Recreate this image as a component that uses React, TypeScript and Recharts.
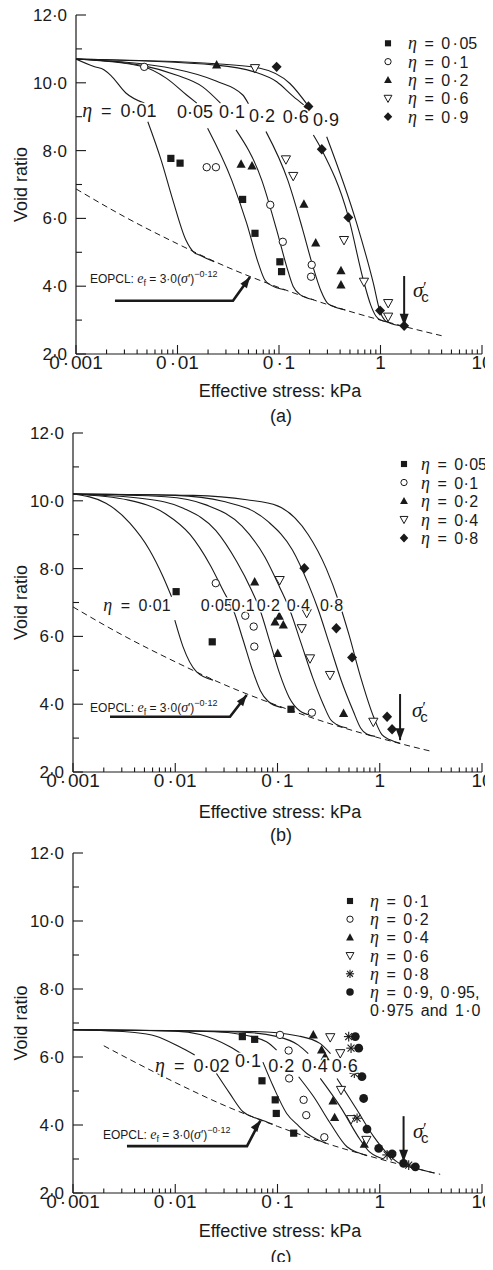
import React from 'react'
import { ComposedChart, Line, Scatter, XAxis, YAxis, ReferenceDot } from 'recharts'

const SANS = '"Liberation Sans", Arial, sans-serif'
const SERIF = '"Liberation Serif", "Times New Roman", serif'
const INK = '#1a1a1a'

type Pair = [number, number | null]
type Kind = 'sq' | 'ci' | 'tr' | 'td' | 'di' | 'as' | 'fc'

// axes (shared by the three panels)
const xTicks = [
    0.001, 0.002, 0.003, 0.004, 0.005, 0.006, 0.007, 0.008, 0.009,
    0.01, 0.02, 0.03, 0.04, 0.05, 0.06, 0.07, 0.08, 0.09,
    0.1, 0.2, 0.3, 0.4, 0.5, 0.6, 0.7, 0.8, 0.9,
    1, 2, 3, 4, 5, 6, 7, 8, 9, 10,
]
const xTickLabels: Record<string, string> = { '0.001': '0·001', '0.01': '0·01', '0.1': '0·1', '1': '1', '10': '10' }
const yTicks = [2, 3, 4, 5, 6, 7, 8, 9, 10, 11, 12]
const yTickLabels: Record<string, string> = { '2': '2·0', '4': '4·0', '6': '6·0', '8': '8·0', '10': '10·0', '12': '12·0' }

// ---------- panel (a) ----------
const curveA001: Pair[] = [[0.001, 10.7], [0.0015, 10.48], [0.0019, 10.38], [0.0022, 10.22], [0.0031, 9.7], [0.0047, 9.4], [0.0049, null], [0.0051, 8.85], [0.0069, 7.72], [0.009, 6.54], [0.0121, 5.36], [0.0145, 5.0], [0.0164, 4.92], [0.023, 4.72]]
const curveA005: Pair[] = [[0.001, 10.7], [0.0045, 10.48], [0.0078, 10.13], [0.0123, 9.64], [0.0155, 9.4], [0.0175, null], [0.0198, 8.66], [0.0342, 7.13], [0.048, 5.86], [0.0625, 4.68], [0.072, 4.2], [0.08, 4.06], [0.115, 3.89]]
const curveA01: Pair[] = [[0.001, 10.7], [0.0047, 10.5], [0.0097, 10.23], [0.0177, 9.88], [0.0265, 9.4], [0.032, null], [0.0377, 8.61], [0.0676, 7.13], [0.0948, 5.66], [0.119, 4.58], [0.138, 3.99], [0.16, 3.76], [0.22, 3.6]]
const curveA02: Pair[] = [[0.001, 10.7], [0.0097, 10.4], [0.024, 10.05], [0.044, 9.64], [0.05, 9.38], [0.062, null], [0.0745, 8.56], [0.122, 7.13], [0.17, 5.7], [0.215, 4.6], [0.26, 3.85], [0.3, 3.5], [0.333, 3.42], [0.45, 3.3]]
const curveA06: Pair[] = [[0.001, 10.7], [0.024, 10.52], [0.056, 10.33], [0.095, 10.03], [0.138, 9.6], [0.175, 9.35], [0.2, null], [0.218, 8.46], [0.264, 8.02], [0.482, 6.05], [0.678, 4.18], [0.8, 3.45], [0.9, 3.12], [1.0, 3.0], [1.2, 2.94]]
const curveA09: Pair[] = [[0.001, 10.7], [0.024, 10.56], [0.065, 10.43], [0.128, 9.98], [0.195, 9.31], [0.25, null], [0.295, 8.41], [0.582, 5.86], [0.85, 4.09], [0.99, 3.25], [1.1, 3.0], [1.2, 2.93], [1.7, 2.82]]
const eopclA: Pair[] = [[0.001, 6.87], [0.003, 6.05], [0.01, 5.25], [0.03, 4.58], [0.1, 3.96], [0.3, 3.46], [1, 3.0], [2, 2.76], [4, 2.54]]

const testsA005: Pair[] = [[0.0086, 7.77], [0.0106, 7.63], [0.0438, 6.56], [0.058, 5.56], [0.102, 4.72], [0.106, 4.43]]
const testsA01: Pair[] = [[0.0047, 10.47], [0.0194, 7.51], [0.0239, 7.51], [0.082, 6.4], [0.109, 5.31], [0.21, 4.63], [0.207, 4.28]]
const testsA02: Pair[] = [[0.0243, 10.53], [0.0423, 7.6], [0.0542, 7.55], [0.176, 6.42], [0.23, 5.28], [0.408, 4.46], [0.408, 4.04]]
const testsA06: Pair[] = [[0.058, 10.43], [0.117, 7.74], [0.138, 7.25], [0.437, 5.36], [0.687, 4.13], [1.19, 3.5], [1.19, 3.1]]
const testsA09: Pair[] = [[0.0948, 10.47], [0.195, 9.3], [0.264, 8.04], [0.482, 6.03], [0.99, 3.28], [1.71, 2.83]]

const legendA = ['0·05', '0·1', '0·2', '0·6', '0·9']

// ---------- panel (b) ----------
const curveB001: Pair[] = [[0.001, 10.2], [0.0021, 9.93], [0.0036, 9.34], [0.0056, 8.55], [0.0076, 7.76], [0.0092, 7.17], [0.0096, null], [0.0099, 6.48], [0.0119, 5.7], [0.0161, 4.96], [0.0234, 4.71]]
const curveB005: Pair[] = [[0.001, 10.2], [0.0035, 10.02], [0.008, 9.62], [0.014, 9.0], [0.022, 8.1], [0.03, 7.3], [0.037, 6.78], [0.046, 5.9], [0.057, 5.0], [0.068, 4.4], [0.0813, 4.08], [0.11, 3.9]]
const curveB01: Pair[] = [[0.001, 10.2], [0.005, 10.06], [0.012, 9.78], [0.025, 9.12], [0.04, 8.2], [0.055, 7.4], [0.0675, 6.78], [0.085, 5.8], [0.105, 4.9], [0.13, 4.2], [0.166, 3.8], [0.21, 3.68]]
const curveB02: Pair[] = [[0.001, 10.2], [0.008, 10.12], [0.02, 9.88], [0.045, 9.25], [0.075, 8.35], [0.105, 7.45], [0.132, 6.78], [0.17, 5.8], [0.22, 4.8], [0.28, 4.0], [0.33, 3.55], [0.379, 3.4], [0.48, 3.3]]
const curveB04: Pair[] = [[0.001, 10.2], [0.01, 10.16], [0.03, 9.98], [0.08, 9.4], [0.14, 8.55], [0.2, 7.55], [0.251, 6.78], [0.32, 5.8], [0.42, 4.7], [0.55, 3.8], [0.65, 3.3], [0.745, 3.12], [0.9, 3.05]]
const curveB08: Pair[] = [[0.001, 10.2], [0.015, 10.16], [0.05, 10.03], [0.1, 9.85], [0.2, 9.0], [0.3, 8.0], [0.4, 7.0], [0.5, 6.05], [0.65, 4.8], [0.87, 3.63], [1.05, 3.1], [1.26, 2.95], [1.58, 2.85]]
const eopclB: Pair[] = [[0.001, 6.87], [0.003, 6.05], [0.01, 5.25], [0.03, 4.58], [0.1, 3.96], [0.3, 3.46], [1, 3.0], [2, 2.76], [3.1, 2.62]]

const testsB005: Pair[] = [[0.0102, 7.32], [0.023, 5.84], [0.1355, 3.85]]
const testsB01: Pair[] = [[0.0249, 7.57], [0.0484, 6.61], [0.0585, 6.29], [0.0593, 5.7], [0.217, 3.75]]
const testsB02: Pair[] = [[0.0598, 7.61], [0.104, 6.6], [0.0946, 6.43], [0.114, 6.34], [0.1005, 5.5], [0.443, 3.73]]
const testsB04: Pair[] = [[0.105, 7.66], [0.193, 6.69], [0.1725, 6.24], [0.208, 5.35], [0.326, 4.86], [0.865, 3.48]]
const testsB08: Pair[] = [[0.183, 8.01], [0.376, 6.24], [0.536, 5.38], [1.18, 3.63], [1.32, 3.26]]

const legendB = ['0·05', '0·1', '0·2', '0·4', '0·8']

// ---------- panel (c) ----------
const curveC002: Pair[] = [[0.001, 6.8], [0.004, 6.72], [0.0065, 6.61], [0.011, 6.3], [0.0155, 6.06], [0.02, null], [0.0252, 5.52], [0.0341, 4.93], [0.046, 4.39], [0.058, 4.23], [0.067, 4.17], [0.09, 4.02]]
const curveC01: Pair[] = [[0.001, 6.8], [0.01, 6.76], [0.0175, 6.66], [0.0343, 6.3], [0.045, 6.08], [0.058, null], [0.072, 5.85], [0.091, 5.13], [0.123, 4.34], [0.16, 3.98], [0.2, 3.72], [0.25, 3.56], [0.3, 3.46]]
const curveC02: Pair[] = [[0.001, 6.8], [0.02, 6.75], [0.037, 6.7], [0.078, 6.45], [0.098, 6.2], [0.12, null], [0.161, 5.42], [0.226, 4.83], [0.328, 4.05], [0.478, 3.36], [0.6, 3.2], [0.75, 3.1]]
const curveC04: Pair[] = [[0.001, 6.8], [0.04, 6.74], [0.1, 6.6], [0.16, 6.35], [0.2, 6.1], [0.23, null], [0.262, 5.37], [0.411, 4.54], [0.646, 3.56], [0.8, 3.2], [0.94, 3.07], [1.1, 3.0]]
const curveC06: Pair[] = [[0.001, 6.8], [0.06, 6.75], [0.16, 6.62], [0.26, 6.4], [0.33, 6.1], [0.355, null], [0.382, 5.37], [0.6, 4.44], [0.873, 3.66], [1.18, 3.17], [1.5, 2.9], [2.5, 2.69], [3.4, 2.59]]
const eopclC: Pair[] = [[0.002, 6.33], [0.003, 6.05], [0.01, 5.25], [0.03, 4.58], [0.1, 3.96], [0.3, 3.46], [1, 3.0], [2, 2.76], [3.9, 2.55]]

const testsC01: Pair[] = [[0.0453, 6.6], [0.0598, 6.52], [0.0705, 5.3], [0.095, 4.74], [0.0973, 4.34], [0.144, 3.76]]
const testsC02: Pair[] = [[0.1057, 6.65], [0.1285, 6.19], [0.13, 5.37], [0.18, 4.74], [0.191, 4.29], [0.287, 3.64]]
const testsC04: Pair[] = [[0.224, 6.65], [0.27, 6.21], [0.292, 6.01], [0.349, 4.71], [0.362, 4.22], [0.706, 3.44]]
const testsC06: Pair[] = [[0.328, 6.58], [0.411, 6.11], [0.418, 5.03], [0.524, 4.17], [0.74, 3.56], [1.3, 3.1]]
const testsC08: Pair[] = [[0.497, 6.6], [0.524, 6.26], [0.564, 5.52], [0.6, 4.2], [1.18, 3.12], [1.92, 2.82]]
const testsC09: Pair[] = [[0.577, 6.6], [0.623, 6.26], [0.67, 5.42], [0.696, 4.78], [0.75, 3.88], [0.977, 3.31], [1.32, 3.15], [1.71, 2.87], [2.23, 2.77]]

const legendC = ['0·1', '0·2', '0·4', '0·6', '0·8', '0·9, 0·95,']

const W = 493
const H = 430

const pts = (a: Pair[]) => a.map(([x, y]) => ({ x, y }))

// the figure sets its decimal point with a little room on either side
const spaced = (t: string, pad: number) =>
    t.split('·').flatMap((s, i) =>
        i === 0
            ? [s]
            : [
                  <tspan key={'d' + i} dx={pad}>·</tspan>,
                  <tspan key={'s' + i} dx={pad * 0.6}>{s}</tspan>,
              ],
    )

const Mark = ({ cx, cy, kind, s = 1 }: { cx: number; cy: number; kind: Kind; s?: number }) => {
    switch (kind) {
        case 'sq':
            return <rect x={cx - 3.6 * s} y={cy - 3.6 * s} width={7.2 * s} height={7.2 * s} fill={INK} />
        case 'ci':
            return <circle cx={cx} cy={cy} r={3.7 * s} fill="#fff" stroke={INK} strokeWidth={1} />
        case 'tr':
            return <polygon points={`${cx},${cy - 4.8 * s} ${cx + 4.6 * s},${cy + 3.6 * s} ${cx - 4.6 * s},${cy + 3.6 * s}`} fill={INK} />
        case 'td':
            return <polygon points={`${cx - 4.6 * s},${cy - 3.6 * s} ${cx + 4.6 * s},${cy - 3.6 * s} ${cx},${cy + 4.8 * s}`} fill="#fff" stroke={INK} strokeWidth={1} />
        case 'di':
            return <polygon points={`${cx},${cy - 5.2 * s} ${cx + 5 * s},${cy} ${cx},${cy + 5.2 * s} ${cx - 5 * s},${cy}`} fill={INK} />
        case 'as': {
            const r = 4.8 * s
            return (
                <g stroke={INK} strokeWidth={1.1}>
                    <line x1={cx - r} y1={cy} x2={cx + r} y2={cy} />
                    <line x1={cx} y1={cy - r} x2={cx} y2={cy + r} />
                    <line x1={cx - r * 0.72} y1={cy - r * 0.72} x2={cx + r * 0.72} y2={cy + r * 0.72} />
                    <line x1={cx - r * 0.72} y1={cy + r * 0.72} x2={cx + r * 0.72} y2={cy - r * 0.72} />
                </g>
            )
        }
        default:
            return <circle cx={cx} cy={cy} r={4.4 * s} fill={INK} />
    }
}

const XTick = (props: any) => {
    const { x, y, payload } = props
    const label = xTickLabels[String(payload.value)]
    return (
        <g>
            <line x1={x} x2={x} y1={y} y2={y - (label ? 9 : 4.5)} stroke={INK} strokeWidth={1.1} />
            {label && (
                <text x={x} y={y + 15} textAnchor="middle" fontSize={19} fontFamily={SANS} fill={INK}>
                    {spaced(label, 3)}
                </text>
            )}
        </g>
    )
}

const YTick = (props: any) => {
    const { x, y, payload } = props
    const label = yTickLabels[String(payload.value)]
    return (
        <g>
            <line x1={x} x2={x + (label ? 10 : 6)} y1={y} y2={y} stroke={INK} strokeWidth={1.1} />
            {label && (
                <text x={x - 9} y={y + 6} textAnchor="end" fontSize={17} fontFamily={SANS} fill={INK}>
                    {label}
                </text>
            )}
        </g>
    )
}

type Note = { x: number; y: number; t: string; eta?: boolean }

interface PanelProps {
    top: number
    margin: { top: number; right: number; bottom: number; left: number }
    yWidth: number
    curves: Pair[][]
    eopcl: Pair[]
    tests: { kind: Kind; data: Pair[] }[]
    notes: Note[]
    noteSize: number
    eq: [number, number]
    arrow: Pair[]
    arrowDeg: number
    sigma: Pair[]
    sigmaLabel: [number, number]
    legend: { kind?: Kind; text: string; eta: boolean }[]
    legendX: number
    legendTextX: number
    legendY: number
    legendStep: number
    legendPad: number
    titleY: number
    letterY: number
    letter: string
}

const Panel = (p: PanelProps) => {
    const plotMid = (p.margin.top + (H - p.margin.bottom - 30)) / 2
    const tip = p.arrow[p.arrow.length - 1]
    const sigTip = p.sigma[p.sigma.length - 1]
    return (
        <div style={{ position: 'absolute', left: 0, top: p.top, width: W, height: H }}>
            <ComposedChart width={W} height={H} margin={p.margin}>
                <XAxis
                    type="number"
                    dataKey="x"
                    scale="log"
                    domain={[0.001, 10]}
                    ticks={xTicks}
                    interval={0}
                    allowDataOverflow
                    height={30}
                    tickSize={0}
                    tickMargin={0}
                    tickLine={false}
                    axisLine={{ stroke: INK, strokeWidth: 1.2 }}
                    tick={XTick}
                />
                <YAxis
                    type="number"
                    dataKey="y"
                    domain={[2, 12]}
                    ticks={yTicks}
                    interval={0}
                    allowDataOverflow
                    width={p.yWidth}
                    tickSize={0}
                    tickMargin={0}
                    tickLine={false}
                    axisLine={{ stroke: INK, strokeWidth: 1.2 }}
                    tick={YTick}
                />
                <Line
                    data={pts(p.eopcl)}
                    dataKey="y"
                    type="monotone"
                    stroke={INK}
                    strokeWidth={1}
                    strokeDasharray="6 4"
                    dot={false}
                    isAnimationActive={false}
                />
                {p.curves.map((c, i) => (
                    <Line
                        key={i}
                        data={pts(c)}
                        dataKey="y"
                        type="monotone"
                        stroke={INK}
                        strokeWidth={1.1}
                        dot={false}
                        isAnimationActive={false}
                    />
                ))}
                <Line data={pts(p.arrow)} dataKey="y" type="linear" stroke={INK} strokeWidth={2.6} dot={false} isAnimationActive={false} />
                <Line data={pts(p.sigma)} dataKey="y" type="linear" stroke={INK} strokeWidth={2} dot={false} isAnimationActive={false} />
                {p.tests.map((s, i) => (
                    <Scatter
                        key={i}
                        data={pts(s.data)}
                        isAnimationActive={false}
                        shape={(q: any) => <Mark cx={q.cx} cy={q.cy} kind={s.kind} />}
                    />
                ))}
                <ReferenceDot
                    x={tip[0]}
                    y={tip[1] as number}
                    ifOverflow="visible"
                    shape={(q: any) => (
                        <polygon transform={`translate(${q.cx},${q.cy}) rotate(${p.arrowDeg})`} points="0,0 -11,-4 -11,4" fill={INK} />
                    )}
                />
                <ReferenceDot
                    x={sigTip[0]}
                    y={sigTip[1] as number}
                    ifOverflow="visible"
                    shape={(q: any) => (
                        <polygon transform={`translate(${q.cx},${q.cy}) rotate(90)`} points="0,0 -12,-4.5 -12,4.5" fill={INK} />
                    )}
                />
                <ReferenceDot
                    x={p.sigmaLabel[0]}
                    y={p.sigmaLabel[1]}
                    ifOverflow="visible"
                    shape={(q: any) => (
                        <text x={q.cx} y={q.cy} fill={INK} fontFamily={SANS}>
                            <tspan fontFamily={SERIF} fontStyle="italic" fontSize={21}>σ</tspan>
                            <tspan fontSize={15} dy={-5}>′</tspan>
                            <tspan fontSize={15} dx={-5} dy={10}>c</tspan>
                        </text>
                    )}
                />
                <ReferenceDot
                    x={p.eq[0]}
                    y={p.eq[1]}
                    ifOverflow="visible"
                    shape={(q: any) => (
                        <text x={q.cx} y={q.cy} fill={INK} fontFamily={SANS} fontSize={12}>
                            EOPCL:{' '}
                            <tspan fontFamily={SERIF} fontStyle="italic" fontSize={14}>e</tspan>
                            <tspan fontSize={9} dy={3}>f</tspan>
                            <tspan dy={-3}> = 3·0(</tspan>
                            <tspan fontFamily={SERIF} fontStyle="italic" fontSize={14}>σ</tspan>
                            <tspan>′)</tspan>
                            <tspan fontSize={9} dy={-6}>−0·12</tspan>
                        </text>
                    )}
                />
                {p.notes.map((n, i) => (
                    <ReferenceDot
                        key={'n' + i}
                        x={n.x}
                        y={n.y}
                        ifOverflow="visible"
                        shape={(q: any) => (
                            <text
                                x={q.cx}
                                y={q.cy}
                                fill={INK}
                                fontFamily={SANS}
                                fontSize={p.noteSize}
                                wordSpacing={4}
                                stroke="#fff"
                                strokeWidth={3}
                                paintOrder="stroke"
                            >
                                {n.eta && (
                                    <tspan fontFamily={SERIF} fontStyle="italic" fontSize={p.noteSize + 2}>
                                        η
                                    </tspan>
                                )}
                                {n.eta ? ' = ' + n.t : n.t}
                            </text>
                        )}
                    />
                ))}
            </ComposedChart>
            <svg width={W} height={H} style={{ position: 'absolute', left: 0, top: 0, pointerEvents: 'none' }}>
                {p.legend.map((it, i) => {
                    const cy = p.legendY + i * p.legendStep
                    return (
                        <g key={i}>
                            {it.kind && <Mark cx={p.legendX} cy={cy} kind={it.kind} s={0.85} />}
                            <text x={p.legendTextX} y={cy + 6} fontSize={16} wordSpacing={3} fontFamily={SANS} fill={INK}>
                                {it.eta && (
                                    <tspan fontFamily={SERIF} fontStyle="italic" fontSize={18}>
                                        η
                                    </tspan>
                                )}
                                {it.eta ? ' = ' : ''}
                                {spaced(it.text, p.legendPad)}
                            </text>
                        </g>
                    )
                })}
                <text x={280} y={p.titleY} textAnchor="middle" fontSize={18} fontFamily={SANS} fill={INK}>
                    Effective stress: kPa
                </text>
                <text transform={`translate(27,${plotMid}) rotate(-90)`} textAnchor="middle" fontSize={18} fontFamily={SANS} fill={INK}>
                    Void ratio
                </text>
                <text x={281} y={p.letterY} textAnchor="middle" fontSize={18} fontFamily={SANS} fill={INK}>
                    {p.letter}
                </text>
            </svg>
        </div>
    )
}

const kindsAB: Kind[] = ['sq', 'ci', 'tr', 'td', 'di']
const kindsC: Kind[] = ['sq', 'ci', 'tr', 'td', 'as', 'fc']

const App = () => {
    return (
        <div style={{ position: 'relative', margin: '-8px 0 0 -8px', width: W, height: 1262, fontFamily: SANS }}>
            <Panel
                top={0}
                margin={{ top: 15, right: 11, bottom: 46, left: 0 }}
                yWidth={76}
                curves={[curveA001, curveA005, curveA01, curveA02, curveA06, curveA09]}
                eopcl={eopclA}
                tests={[testsA005, testsA01, testsA02, testsA06, testsA09].map((d, i) => ({ kind: kindsAB[i], data: d }))}
                notes={[
                    { x: 0.00115, y: 9.0, t: '0·01', eta: true },
                    { x: 0.0099, y: 8.96, t: '0·05' },
                    { x: 0.0257, y: 8.96, t: '0·1' },
                    { x: 0.0506, y: 8.84, t: '0·2' },
                    { x: 0.109, y: 8.82, t: '0·6' },
                    { x: 0.216, y: 8.74, t: '0·9' },
                ]}
                noteSize={18}
                eq={[0.00137, 4.09]}
                arrow={[[0.00242, 3.57], [0.0352, 3.57], [0.0518, 4.27]]}
                arrowDeg={-54.7}
                sigma={[[1.71, 4.3], [1.71, 2.83]]}
                sigmaLabel={[2.09, 3.68]}
                legend={legendA.map((t, i) => ({ kind: kindsAB[i], text: t, eta: true }))}
                legendX={388}
                legendTextX={408}
                legendY={43.3}
                legendStep={18.35}
                legendPad={2.5}
                titleY={397}
                letterY={422}
                letter="(a)"
            />
            <Panel
                top={420}
                margin={{ top: 13, right: 11, bottom: 48, left: 0 }}
                yWidth={73}
                curves={[curveB001, curveB005, curveB01, curveB02, curveB04, curveB08]}
                eopcl={eopclB}
                tests={[testsB005, testsB01, testsB02, testsB04, testsB08].map((d, i) => ({ kind: kindsAB[i], data: d }))}
                notes={[
                    { x: 0.00198, y: 6.76, t: '0·01', eta: true },
                    { x: 0.0178, y: 6.76, t: '0·05' },
                    { x: 0.0355, y: 6.76, t: '0·1' },
                    { x: 0.0627, y: 6.76, t: '0·2' },
                    { x: 0.123, y: 6.76, t: '0·4' },
                    { x: 0.26, y: 6.76, t: '0·8' },
                ]}
                noteSize={16}
                eq={[0.00147, 3.78]}
                arrow={[[0.0023, 3.63], [0.0343, 3.63], [0.05, 4.27]]}
                arrowDeg={-52.4}
                sigma={[[1.58, 4.3], [1.58, 2.94]]}
                sigmaLabel={[2.07, 3.62]}
                legend={legendB.map((t, i) => ({ kind: kindsAB[i], text: t, eta: true }))}
                legendX={404}
                legendTextX={421}
                legendY={44}
                legendStep={18.5}
                legendPad={0.5}
                titleY={398}
                letterY={421}
                letter="(b)"
            />
            <Panel
                top={840}
                margin={{ top: 13, right: 11, bottom: 47, left: 0 }}
                yWidth={73}
                curves={[curveC002, curveC01, curveC02, curveC04, curveC06]}
                eopcl={eopclC}
                tests={[testsC01, testsC02, testsC04, testsC06, testsC08, testsC09].map((d, i) => ({ kind: kindsC[i], data: d }))}
                notes={[
                    { x: 0.00634, y: 5.57, t: '0·02', eta: true },
                    { x: 0.0384, y: 5.71, t: '0·1' },
                    { x: 0.0813, y: 5.57, t: '0·2' },
                    { x: 0.1726, y: 5.57, t: '0·4' },
                    { x: 0.339, y: 5.57, t: '0·6' },
                ]}
                noteSize={18}
                eq={[0.00196, 3.58]}
                arrow={[[0.00337, 3.38], [0.0503, 3.38], [0.068, 4.13]]}
                arrowDeg={-55}
                sigma={[[1.71, 4.26], [1.71, 2.92]]}
                sigmaLabel={[2.11, 3.62]}
                legend={[
                    ...legendC.map((t, i) => ({ kind: kindsC[i], text: t, eta: true })),
                    { text: '0·975 and 1·0', eta: false },
                ]}
                legendX={350}
                legendTextX={370}
                legendY={61}
                legendStep={18.2}
                legendPad={1.5}
                titleY={397}
                letterY={423}
                letter="(c)"
            />
        </div>
    )
}

export default App
